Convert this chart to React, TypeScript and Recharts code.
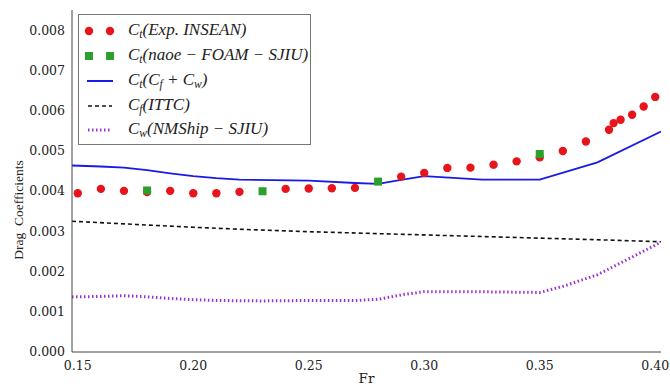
import React from 'react';
import { ComposedChart, Line, Scatter, XAxis, YAxis } from 'recharts';

// Experimental Ct (INSEAN)
const expFr = [0.15, 0.16, 0.17, 0.18, 0.19, 0.2, 0.21, 0.22, 0.24, 0.25, 0.26, 0.27, 0.29, 0.3, 0.31, 0.32, 0.33, 0.34, 0.35, 0.36, 0.37, 0.38, 0.382, 0.385, 0.39, 0.395, 0.4];
const expCt = [0.003946, 0.004054, 0.004005, 0.003975, 0.004005, 0.003946, 0.003946, 0.00398, 0.004054, 0.004062, 0.004069, 0.004079, 0.004359, 0.004451, 0.004575, 0.004582, 0.004656, 0.004738, 0.004837, 0.004996, 0.005233, 0.005523, 0.005689, 0.005771, 0.005895, 0.0061, 0.00634];

// naoe-FOAM-SJIU Ct
const naoeFr = [0.18, 0.23, 0.28, 0.35];
const naoeCt = [0.004015, 0.003995, 0.004235, 0.004921];

// Ct = Cf + Cw
const sumFr = [0.1475, 0.16, 0.17, 0.18, 0.19, 0.2, 0.21, 0.22, 0.25, 0.27, 0.28, 0.29, 0.3, 0.325, 0.35, 0.375, 0.4025];
const sumCt = [0.004635, 0.00461, 0.00458, 0.00452, 0.00444, 0.00437, 0.00432, 0.004285, 0.00426, 0.0042, 0.00418, 0.00428, 0.00437, 0.004285, 0.004285, 0.004713, 0.00548];

// Cf ITTC
const ittcFr = [0.1475, 0.175, 0.2, 0.225, 0.25, 0.275, 0.3, 0.325, 0.35, 0.375, 0.4025];
const ittcCf = [0.00325, 0.00317, 0.0031, 0.00304, 0.00299, 0.00295, 0.00291, 0.00287, 0.00283, 0.00279, 0.00274];

// Cw NMShip-SJIU
const cwFr = [0.1475, 0.16, 0.17, 0.18, 0.19, 0.2, 0.21, 0.23, 0.25, 0.27, 0.28, 0.29, 0.3, 0.32, 0.35, 0.36, 0.375, 0.39, 0.4025];
const cwVal = [0.00137, 0.00138, 0.0014, 0.00137, 0.00133, 0.0013, 0.00128, 0.00127, 0.00128, 0.00128, 0.00131, 0.00142, 0.0015, 0.0015, 0.00148, 0.00163, 0.00192, 0.00236, 0.00273];

const xTicks = [0.15, 0.2, 0.25, 0.3, 0.35, 0.4];
const yTicks = [0, 0.001, 0.002, 0.003, 0.004, 0.005, 0.006, 0.007, 0.008];

const zip = (xs: number[], ys: number[]) => xs.map((x, i) => ({ x, y: ys[i] }));
const expData = zip(expFr, expCt);
const naoeData = zip(naoeFr, naoeCt);
const sumData = zip(sumFr, sumCt);
const ittcData = zip(ittcFr, ittcCf);
const cwData = zip(cwFr, cwVal);

const RED = '#e8141b';
const GREEN = '#2ca02c';
const BLUE = '#1a1ae6';
const PURPLE = '#9a30d0';
const AXIS = '#444';
const tickFont = { fontFamily: '"DejaVu Serif", serif', fontSize: 12.5, fill: '#222' };

const RedDot = (p: any) => <circle cx={p.cx} cy={p.cy} r={4.2} fill={RED} />;
const GreenSq = (p: any) => <rect x={p.cx - 4} y={p.cy - 4} width={8} height={8} fill={GREEN} />;

const Sub = ({ children }: { children: React.ReactNode }) => (
  <span style={{ fontSize: '0.68em', position: 'relative', top: '0.3em' }}>{children}</span>
);

const Row = ({ top, marker, children }: { top: number; marker: React.ReactNode; children: React.ReactNode }) => (
  <div style={{ position: 'absolute', left: 0, top: top - 12, height: 24, display: 'flex', alignItems: 'center' }}>
    <svg width={49} height={24} style={{ flex: 'none' }}>{marker}</svg>
    <span style={{ fontFamily: '"Liberation Serif", serif', fontStyle: 'italic', fontSize: 17, whiteSpace: 'pre', lineHeight: '24px', color: '#222' }}>
      {children}
    </span>
  </div>
);

const Legend = () => (
  <div style={{ position: 'absolute', left: 78, top: 14, width: 233, height: 131, boxSizing: 'border-box', border: '1px solid #777', background: '#fff' }}>
    <Row top={16} marker={<g><circle cx={10} cy={12} r={4.2} fill={RED} /><circle cx={31} cy={12} r={4.2} fill={RED} /></g>}>
      C<Sub>t</Sub>(Exp. INSEAN)
    </Row>
    <Row top={41} marker={<g><rect x={6} y={8} width={8} height={8} fill={GREEN} /><rect x={27} y={8} width={8} height={8} fill={GREEN} /></g>}>
      C<Sub>t</Sub>(naoe − FOAM − SJIU)
    </Row>
    <Row top={66} marker={<line x1={8} x2={34} y1={12} y2={12} stroke={BLUE} strokeWidth={2} />}>
      C<Sub>t</Sub>(C<Sub>f</Sub> + C<Sub>w</Sub>)
    </Row>
    <Row top={91} marker={<line x1={9} x2={33} y1={12} y2={12} stroke="#111" strokeWidth={1.6} strokeDasharray="4 3" />}>
      C<Sub>f</Sub>(ITTC)
    </Row>
    <Row top={115} marker={<line x1={9} x2={33} y1={12} y2={12} stroke={PURPLE} strokeWidth={3} strokeDasharray="1.5 2.5" />}>
      C<Sub>w</Sub>(NMShip − SJIU)
    </Row>
  </div>
);

export default function App() {
  return (
    <div style={{ position: 'fixed', left: 0, top: 0, width: 670, height: 386, overflow: 'hidden', background: '#fff' }}>
      <ComposedChart width={670} height={386} margin={{ top: 10, right: 9, left: 0, bottom: 0 }}>
        <XAxis
          xAxisId="b"
          type="number"
          dataKey="x"
          domain={[0.1475, 0.4025]}
          ticks={xTicks}
          tickFormatter={(v: number) => v.toFixed(2)}
          allowDataOverflow
          height={34}
          tickLine={false}
          tickSize={0}
          tickMargin={9}
          axisLine={{ stroke: AXIS, strokeWidth: 1 }}
          tick={tickFont}
          label={{ value: 'Fr', position: 'insideBottom', offset: 3, style: { fontFamily: '"DejaVu Serif", serif', fontSize: 13.5, fill: '#222' } }}
        />
        <XAxis xAxisId="t" orientation="top" type="number" domain={[0.1475, 0.4025]} height={0} tick={false} tickLine={false} axisLine={{ stroke: '#777', strokeWidth: 1 }} />
        <YAxis
          yAxisId="l"
          type="number"
          domain={[0, 0.0085]}
          ticks={yTicks}
          tickFormatter={(v: number) => v.toFixed(3)}
          allowDataOverflow
          width={72}
          tickLine={false}
          tickSize={0}
          tickMargin={7}
          axisLine={{ stroke: AXIS, strokeWidth: 1 }}
          tick={tickFont}
          label={{
            content: (props: any) => {
              const vb = props.viewBox || {};
              const cx = 18;
              const cy = (vb.y || 0) + (vb.height || 0) / 2 + 29;
              return (
                <text x={cx} y={cy} transform={`rotate(-90 ${cx} ${cy})`} textAnchor="middle" dominantBaseline="central" style={{ fontFamily: '"Liberation Serif", serif', fontSize: 13.5, fill: '#222', whiteSpace: 'pre' }}>
                  Drag  Coefficients
                </text>
              );
            },
          }}
        />
        <YAxis yAxisId="r" orientation="right" type="number" domain={[0, 0.0085]} width={0} tick={false} tickLine={false} axisLine={{ stroke: '#666', strokeWidth: 1 }} />
        <Line xAxisId="b" yAxisId="l" data={ittcData} dataKey="y" type="linear" stroke="#111" strokeWidth={1.6} strokeDasharray="4 3" dot={false} isAnimationActive={false} />
        <Line xAxisId="b" yAxisId="l" data={cwData} dataKey="y" type="linear" stroke={PURPLE} strokeWidth={3} strokeDasharray="1.5 2.5" dot={false} isAnimationActive={false} />
        <Line xAxisId="b" yAxisId="l" data={sumData} dataKey="y" type="linear" stroke={BLUE} strokeWidth={1.8} dot={false} isAnimationActive={false} />
        <Scatter xAxisId="b" yAxisId="l" data={expData} dataKey="y" shape={RedDot} isAnimationActive={false} />
        <Scatter xAxisId="b" yAxisId="l" data={naoeData} dataKey="y" shape={GreenSq} isAnimationActive={false} />
      </ComposedChart>
      <Legend />
    </div>
  );
}
